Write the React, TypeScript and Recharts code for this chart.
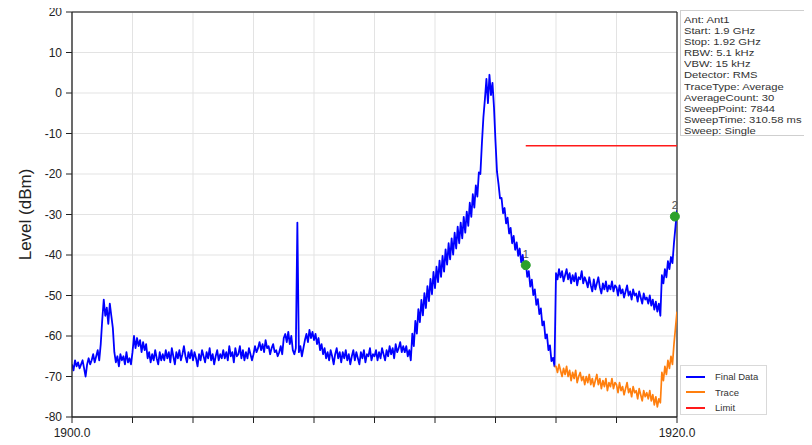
import React from 'react';
import {
  ComposedChart, Line, XAxis, YAxis, CartesianGrid, ReferenceLine, ReferenceDot, Legend,
} from 'recharts';

const FONT = "Arial, 'Liberation Sans', sans-serif";

// sweep grid: one reading every 0.05 MHz
const FREQ_START = 1900;
const FREQ_STEP = 0.05;

// Final Data (dBm), 1900.00 .. 1920.00
const finalLevels: number[] = [
  // 1900
  -67, -68.5, -66, -67.5, -66.5, -68, -67, -66, -68, -70, -67, -65.5, -67, -66, -64.5, -66.5, -65, -63.5, -66, -62,
  // 1901
  -56, -51, -55, -53, -57, -52, -55, -58, -64, -66.5, -65, -67.5, -64.5, -66, -65, -67, -64, -66.5, -65.5, -67,
  // 1902
  -64, -60, -63, -60.5, -62.5, -61, -64, -61.5, -63.5, -62, -65.5, -64, -66.5, -64.5, -66, -63.5, -65.5, -67, -64, -66,
  // 1903
  -64.5, -66, -63.5, -65.5, -64, -66.5, -63, -65, -67, -64, -65.5, -63.5, -66, -64.5, -62.5, -65, -66.5, -64, -65.5, -63.5,
  // 1904
  -66, -64, -65.5, -67.5, -64.5, -66, -63.5, -65, -66.5, -64, -65.5, -63, -66, -64.5, -67, -65, -63.5, -66, -64.5, -65.5,
  // 1905
  -63.5, -65.5, -64, -66, -62.5, -65, -64, -66.5, -63, -65, -64.5, -62.5, -65.5, -63.5, -66, -64, -65.5, -63, -64.5, -66,
  // 1906
  -64.5, -62.5, -64, -63, -61.5, -63.5, -62, -64, -61, -63, -62.5, -64.5, -63, -62, -64, -63.5, -65, -64, -62.5, -64.5,
  // 1907
  -60.5, -59.5, -61.5, -59, -62, -60, -63.5, -64.5, -63, -32, -64, -62.5, -65, -63, -61, -59.5, -61.5, -58.5, -60.5, -59,
  // 1908
  -61, -59.5, -62, -60.5, -63.5, -62, -64.5, -63, -65.5, -64, -66, -63.5, -65, -67, -64.5, -63, -65.5, -64, -66.5, -64,
  // 1909
  -65.5, -63.5, -66, -64.5, -67, -65, -63.5, -66, -64, -65.5, -67, -64, -65.5, -63.5, -66.5, -64.5, -65, -63, -66, -64.5,
  // 1910
  -65, -63.5, -66, -64, -65.5, -63, -64.5, -66, -63.5, -65, -62.5, -64.5, -63, -65.5, -62, -64, -63, -61.5, -64, -62.5,
  // 1911
  -64, -62.5, -65, -63.5, -66, -59.4, -62.5, -56.3, -59.4, -53.4, -56.6, -51.1, -54.9, -49.4, -53.1, -47.7, -51.4, -45.9, -49.7, -44.2,
  // 1912
  -48.2, -42.9, -46.7, -41.4, -45.4, -40.2, -44.1, -38.6, -42.4, -37.1, -41.1, -35.9, -39.9, -34.5, -38.4, -33, -37.1, -32, -35.9, -30.6,
  // 1913
  -34.5, -29.3, -32.8, -27.1, -30.6, -25, -28.3, -22.8, -25.6, -19.6, -20, -12.5, -6, -1.5, 3.5, -2.5, 4.5, -0.5, 2.5, -3.5,
  // 1914
  -12, -19.5, -22.5, -26, -25.9, -29.7, -28.4, -32.2, -30.8, -34.7, -33.3, -37.1, -35.3, -38.7, -36.9, -40.2, -38.4, -41.8, -40, -43.4,
  // 1915
  -41.6, -45.4, -44, -47.8, -46.1, -49.9, -48.5, -52.3, -50.9, -54.6, -53.2, -57.4, -56.4, -60.6, -59.6, -63.5, -62.3, -66.2, -65.4, -67.5,
  // 1916
  -44.5, -46, -43.5, -45.5, -44, -46.5, -45, -43.5, -46, -44.5, -47, -45, -46.5, -44.5, -47.5, -45.5, -46, -44, -47, -45.5,
  // 1917
  -46.5, -48, -45.5, -47.5, -49, -46, -48.5, -47, -45.5, -48, -49.5, -47, -48.5, -46.5, -49, -47.5, -48.5, -46.5, -49, -47.5,
  // 1918
  -48, -50, -47.5, -49.5, -48.5, -50.5, -49, -47.5, -50, -49, -51, -48.5, -50, -49.5, -51.5, -49, -50.5, -52, -49.5, -51,
  // 1919
  -50.5, -52, -50, -52.5, -51, -53.5, -51.5, -54, -52, -55, -45, -47, -43.5, -45.5, -41.5, -43.5, -40.5, -42, -37, -33,
  // 1920
  -29,
];

// Trace (dBm), 1915.95 .. 1920.00
const TRACE_START = 1915.95;
const traceLevels: number[] = [
  -67.5,
  // 1916
  -67.5, -69, -67, -68.5, -70, -68, -69.5, -67.5, -70, -68.5, -71, -69, -70.5, -68.5, -71.5, -70, -69, -71, -70, -72,
  // 1917
  -70, -71.5, -69.5, -72, -70.5, -72.5, -71, -69.5, -72, -70.5, -73, -71, -72.5, -70.5, -73.5, -71.5, -72.5, -70.5, -73, -71.5,
  // 1918
  -72, -74, -71.5, -73.5, -72.5, -74.5, -73, -71.5, -74, -73, -75, -72.5, -74, -73.5, -75.5, -73, -74.5, -76, -73.5, -75,
  // 1919
  -74, -75.5, -73.5, -76, -74.5, -77, -75, -77.5, -75.5, -76.5, -69, -71, -67.5, -69.5, -66, -68, -65, -67, -62, -58,
  // 1920
  -54,
];

const LIMIT_FROM = 1915;
const LIMIT_TO = 1920;
const LIMIT_LEVEL = -13;

const markers = [
  { id: '1', freq: 1915.0, level: -42.5 },
  { id: '2', freq: 1919.93, level: -30.5 },
];

const xTicks = [1900, 1902, 1904, 1906, 1908, 1910, 1912, 1914, 1916, 1918, 1920];
const yTicks = [-80, -70, -60, -50, -40, -30, -20, -10, 0, 10, 20];

const infoLines = [
  'Ant: Ant1',
  'Start: 1.9 GHz',
  'Stop: 1.92 GHz',
  'RBW: 5.1 kHz',
  'VBW: 15 kHz',
  'Detector: RMS',
  'TraceType: Average',
  'AverageCount: 30',
  'SweepPoint: 7844',
  'SweepTime: 310.58 ms',
  'Sweep: Single',
];

const series = [
  { key: 'finalData', name: 'Final Data', color: '#0000ff', width: 1.8 },
  { key: 'trace', name: 'Trace', color: '#ff7f0e', width: 1.7 },
  { key: 'limit', name: 'Limit', color: '#ff1a1a', width: 1.5 },
];

const round2 = (v: number) => Math.round(v * 100) / 100;

interface Row {
  freq: number;
  finalData: number | null;
  trace: number | null;
  limit: number | null;
}

const rows: Row[] = finalLevels.map((v, i) => ({
  freq: round2(FREQ_START + i * FREQ_STEP),
  finalData: v,
  trace: null,
  limit: null,
}));
const byFreq = new Map(rows.map((r) => [r.freq, r]));
traceLevels.forEach((v, i) => {
  const r = byFreq.get(round2(TRACE_START + i * FREQ_STEP));
  if (r) r.trace = v;
});
[LIMIT_FROM, LIMIT_TO].forEach((f) => {
  const r = byFreq.get(f);
  if (r) r.limit = LIMIT_LEVEL;
});

function LegendBox() {
  // same order and colours as the series list
  return (
    <div
      style={{
        border: '1px solid #d9d9d9', background: '#fff', width: 87, height: 50,
        boxSizing: 'border-box', padding: '3px 0 0 5px', fontFamily: FONT, fontSize: 9.5, color: '#333',
      }}
    >
      {series.map((s) => (
        <div key={s.key} style={{ display: 'flex', alignItems: 'center', height: 15.5 }}>
          <span style={{ display: 'inline-block', width: 19, height: 2, background: s.color, marginRight: 10 }} />
          {s.name}
        </div>
      ))}
    </div>
  );
}

export default function App() {
  return (
    <div
      style={{
        position: 'relative', width: 804, height: 445, overflow: 'hidden',
        marginTop: -8, marginBottom: -8, background: '#fff',
      }}
    >
      <ComposedChart width={804} height={468} data={rows} margin={{ top: 12, right: 135, bottom: 23, left: 0 }}>
        <CartesianGrid stroke="#e3e3e3" />
        <XAxis
          dataKey="freq" type="number" domain={[1900, 1920]} ticks={xTicks} interval={0}
          height={28} tickSize={6} tickMargin={5} allowDataOverflow
          tickFormatter={(v: number) => (v === 1900 || v === 1920 ? v.toFixed(1) : '')}
          tick={{ fontSize: 12, fill: '#222', fontFamily: FONT }}
          axisLine={{ stroke: '#222', strokeWidth: 1.3 }} tickLine={{ stroke: '#222' }}
          label={{ value: 'Frequency (MHz)', position: 'bottom', offset: -4, fontSize: 17, fill: '#222', fontFamily: FONT }}
        />
        <YAxis
          type="number" domain={[-80, 20]} ticks={yTicks} interval={0} width={64}
          tickSize={6} tickMargin={4} allowDataOverflow
          tick={{ fontSize: 12, fill: '#222', fontFamily: FONT }}
          axisLine={{ stroke: '#222', strokeWidth: 1.3 }} tickLine={{ stroke: '#222' }}
          label={{
            value: 'Level (dBm)', angle: -90, position: 'insideLeft', offset: 17,
            fontSize: 17, fill: '#222', fontFamily: FONT, style: { textAnchor: 'middle' },
          }}
        />
        <ReferenceLine y={20} stroke="#555" strokeWidth={1.5} />
        <ReferenceLine x={1920} stroke="#333" strokeWidth={1.3} />
        {series.map((s) => (
          <Line
            key={s.key} type="linear" dataKey={s.key} name={s.name} stroke={s.color}
            strokeWidth={s.width} strokeLinejoin="round" dot={false} activeDot={false} legendType="line"
            connectNulls={s.key === 'limit'} isAnimationActive={false}
          />
        ))}
        {markers.map((m) => (
          <ReferenceDot
            key={m.id} x={m.freq} y={m.level} r={4.5} fill="#2ca02c" stroke="#2ca02c"
            label={{ value: m.id, position: 'top', offset: 3, fill: '#555', fontSize: 11, fontFamily: FONT }}
          />
        ))}
        <Legend
          layout="horizontal" align="center" verticalAlign="middle" content={<LegendBox />}
          wrapperStyle={{ position: 'absolute', left: 672, top: 365, width: 87, height: 50 }}
        />
      </ComposedChart>

      <div
        style={{
          position: 'absolute', left: 672, top: 10, width: 150, height: 126, boxSizing: 'border-box',
          padding: '3px 0 0 3px', border: '1px solid #cfcfcf', background: '#fff',
        }}
      >
        <div
          style={{
            fontFamily: FONT, fontSize: 9.6, lineHeight: '11.1px', color: '#333', whiteSpace: 'nowrap',
            transform: 'scaleX(1.17)', transformOrigin: 'left top',
          }}
        >
          {infoLines.map((t) => (
            <div key={t}>{t}</div>
          ))}
        </div>
      </div>
    </div>
  );
}
